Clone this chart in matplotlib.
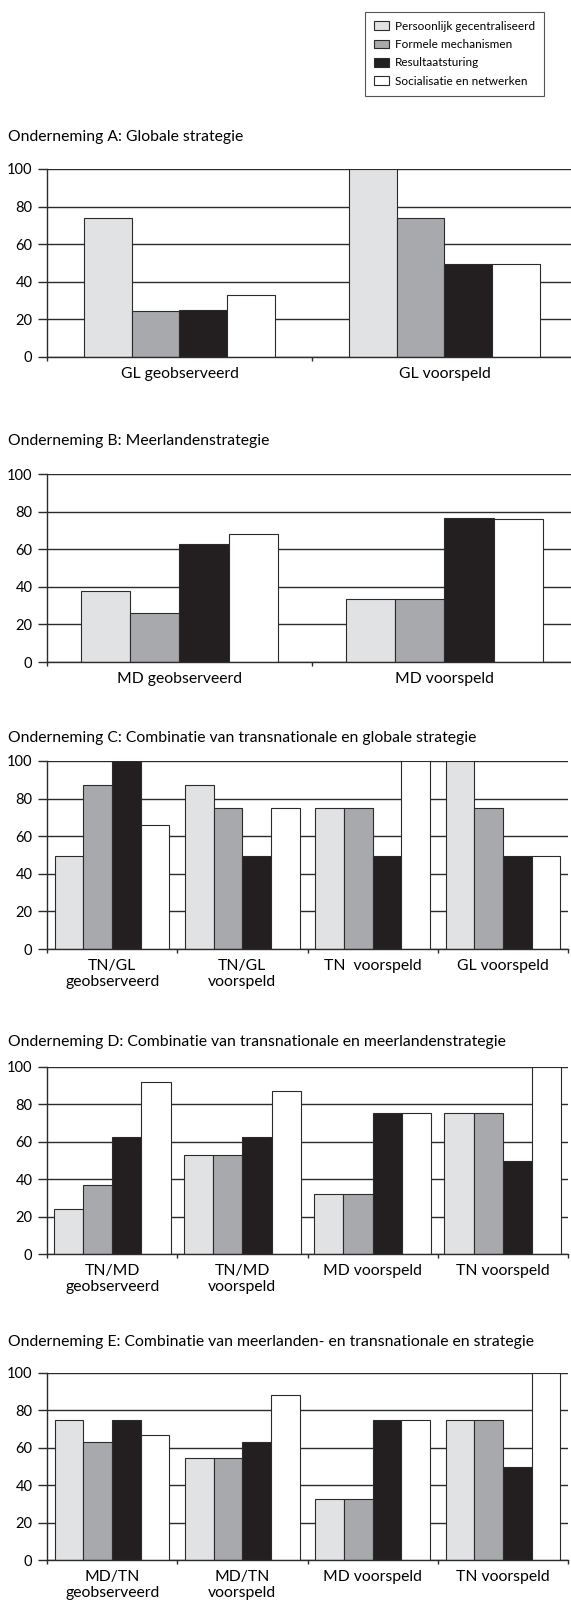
"""Bar charts: besturingsmechanismen per onderneming."""

import matplotlib
matplotlib.use('Agg')
import matplotlib.pyplot as plt
from matplotlib.patches import Patch
import numpy as np

plt.rcParams['font.family'] = ['Lato', 'DejaVu Sans']

series = ['Persoonlijk gecentraliseerd', 'Formele mechanismen',
          'Resultaatsturing', 'Socialisatie en netwerken']
colors = ['#e1e2e4', '#a8a9ac', '#231f20', '#ffffff']

a_title = 'Onderneming A: Globale strategie'
a_cats = ['GL geobserveerd', 'GL voorspeld']
a_vals = [[74, 24.5, 25, 33], [100, 74, 49.5, 49.5]]

b_title = 'Onderneming B: Meerlandenstrategie'
b_cats = ['MD geobserveerd', 'MD voorspeld']
b_vals = [[38, 26, 63, 68], [33.5, 33.5, 76.5, 76]]

c_title = 'Onderneming C: Combinatie van transnationale en globale strategie'
c_cats = ['TN/GL\ngeobserveerd', 'TN/GL\nvoorspeld', 'TN  voorspeld',
          'GL voorspeld']
c_vals = [[49.5, 87, 100, 66], [87, 75, 49.5, 75], [75, 75, 49.5, 100],
          [100, 75, 49.5, 49.5]]

d_title = 'Onderneming D: Combinatie van transnationale en meerlandenstrategie'
d_cats = ['TN/MD\ngeobserveerd', 'TN/MD\nvoorspeld', 'MD voorspeld',
          'TN voorspeld']
d_vals = [[24, 37, 62.5, 92], [53, 53, 62.5, 87], [32, 32, 75.5, 75.5],
          [75.5, 75.5, 50, 100]]

e_title = ('Onderneming E: Combinatie van meerlanden- en transnationale '
           'en strategie')
e_cats = ['MD/TN\ngeobserveerd', 'MD/TN\nvoorspeld', 'MD voorspeld',
          'TN voorspeld']
e_vals = [[75, 63, 75, 67], [54.5, 54.5, 63, 88], [32.5, 32.5, 75, 75],
          [75, 75, 50, 100]]

yticks = [0, 20, 40, 60, 80, 100]

W, H = 571, 1604
LINE = '#2b2b2b'


def px_axes(fig, left, top, right, bottom):
  return fig.add_axes([left / W, 1 - bottom / H, (right - left) / W,
                       (bottom - top) / H])


def draw_panel(fig, title, cats, vals, top, bottom, right, bar_w, title_y):
  ax = px_axes(fig, 47, top, right, bottom)
  n = len(cats)
  x = np.arange(n)
  vals = np.array(vals)
  for j in range(len(series)):
    ax.bar(x + (j - 1.5) * bar_w, vals[:, j], width=bar_w, color=colors[j],
           edgecolor=LINE, linewidth=0.8, zorder=3)
  ax.set_xlim(-0.5, n - 0.5)
  ax.set_ylim(0, 100)
  ax.set_yticks(yticks)
  ax.set_yticklabels([str(t) for t in yticks], fontsize=10.5)
  ax.yaxis.grid(True, color=LINE, linewidth=1.0)
  ax.set_axisbelow(True)
  # category boundaries as major ticks, labels on minor ticks
  ax.set_xticks(np.arange(n + 1) - 0.5)
  ax.set_xticklabels([])
  ax.set_xticks(x, minor=True)
  ax.set_xticklabels(cats, minor=True, fontsize=11.3, linespacing=1.12)
  ax.tick_params(axis='x', which='major', length=3, width=1, color=LINE,
                 direction='out')
  ax.tick_params(axis='x', which='minor', length=0, pad=7.5)
  ax.tick_params(axis='y', length=6.5, width=1, color=LINE, pad=4)
  for s in ['top', 'right']:
    ax.spines[s].set_visible(False)
  for s in ['left', 'bottom']:
    ax.spines[s].set_color(LINE)
    ax.spines[s].set_linewidth(1.0)
  ax.spines['bottom'].set_zorder(4)
  fig.text(8 / W, 1 - title_y / H, title, fontsize=11.3, va='center',
           ha='left')
  return ax


fig = plt.figure(figsize=(W / 100, H / 100), dpi=100)

draw_panel(fig, a_title, a_cats, a_vals, 169, 357, 577, 0.18, 137)
draw_panel(fig, b_title, b_cats, b_vals, 474, 662, 577, 0.185, 441)
draw_panel(fig, c_title, c_cats, c_vals, 761, 949, 568, 0.22, 738)
draw_panel(fig, d_title, d_cats, d_vals, 1067, 1254, 568, 0.225, 1042)
draw_panel(fig, e_title, e_cats, e_vals, 1373, 1560, 568, 0.22, 1342)

handles = [Patch(facecolor=c, edgecolor=LINE, linewidth=0.8) for c in colors]
leg = fig.legend(handles, series, loc='upper left',
                 bbox_to_anchor=(365 / W, 1 - 12 / H), fontsize=8.5,
                 frameon=True, fancybox=False, handlelength=1.3,
                 handleheight=0.75, handletextpad=0.5, labelspacing=0.62,
                 borderpad=0.75, borderaxespad=0)
leg.get_frame().set_edgecolor(LINE)
leg.get_frame().set_linewidth(0.8)

fig.savefig('out.png', dpi=100)
